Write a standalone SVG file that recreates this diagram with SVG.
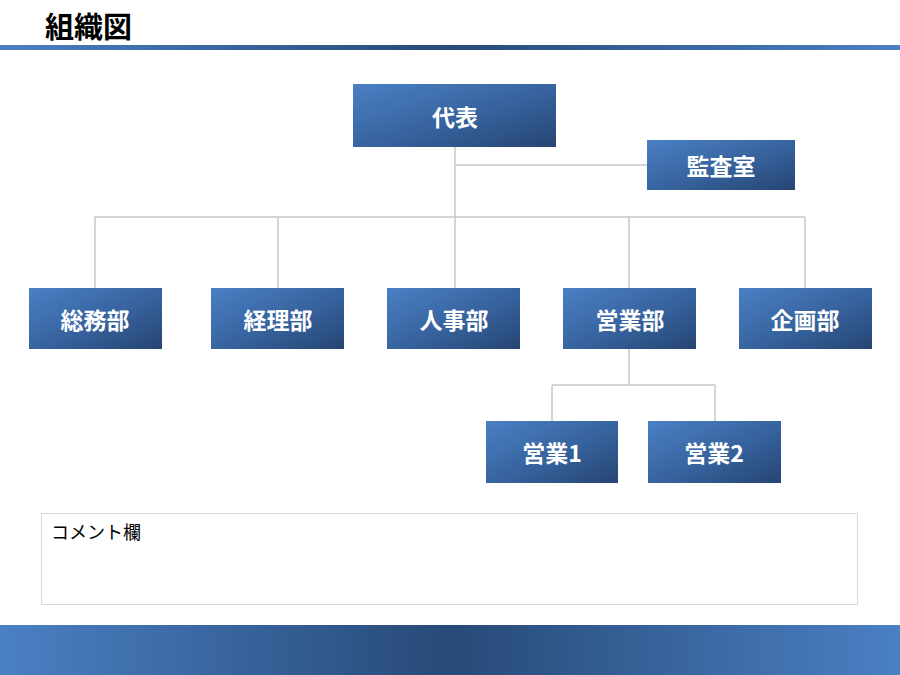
<svg xmlns="http://www.w3.org/2000/svg" width="900" height="675" viewBox="0 0 900 675">
<defs>
<linearGradient id="band" x1="0" y1="0" x2="1" y2="0">
<stop offset="0" stop-color="#4a80c4"/>
<stop offset="0.5" stop-color="#274a77"/>
<stop offset="1" stop-color="#4a80c4"/>
</linearGradient>
<linearGradient id="box" x1="0" y1="0" x2="1" y2="1">
<stop offset="0" stop-color="#4a80c4"/>
<stop offset="0.55" stop-color="#36629d"/>
<stop offset="1" stop-color="#264573"/>
</linearGradient>
<style>
.node rect{fill:url(#box);}
.node text{fill:#ffffff;font-family:"Noto Sans CJK JP","Liberation Sans",sans-serif;font-weight:bold;font-size:23px;text-anchor:middle;dominant-baseline:central;}
.conn{stroke:#c8c8c8;stroke-width:1.5;fill:none;}
</style>
</defs>
<rect width="900" height="675" fill="#ffffff"/>
<text x="45" y="38" font-family="Noto Sans CJK JP, sans-serif" font-weight="bold" font-size="29" fill="#000000">組織図</text>
<rect x="0" y="45" width="900" height="5" fill="url(#band)"/>
<rect x="0" y="625" width="900" height="50" fill="url(#band)"/>
<g id="connectors" class="conn">
<path d="M455 147 V217"/>
<path d="M455 165 H647"/>
<path d="M95 217 H805"/>
<path d="M95 217 V288 M278 217 V288 M455 217 V288 M629 217 V288 M805 217 V288"/>
<path d="M629 349 V385 M552 385 H715 M552 385 V421 M715 385 V421"/>
</g>
<g id="daihyo" class="node"><rect x="353" y="84" width="203" height="63"/><text x="455" y="116">代表</text></g>
<g id="kansa" class="node"><rect x="647" y="140" width="148" height="50"/><text x="721" y="165">監査室</text></g>
<g id="somu" class="node"><rect x="29" y="288" width="133" height="61"/><text x="95" y="319">総務部</text></g>
<g id="keiri" class="node"><rect x="211" y="288" width="133" height="61"/><text x="278" y="319">経理部</text></g>
<g id="jinji" class="node"><rect x="387" y="288" width="133" height="61"/><text x="454" y="319">人事部</text></g>
<g id="eigyo" class="node"><rect x="563" y="288" width="133" height="61"/><text x="630" y="319">営業部</text></g>
<g id="kikaku" class="node"><rect x="739" y="288" width="133" height="61"/><text x="805" y="319">企画部</text></g>
<g id="eigyo1" class="node"><rect x="486" y="421" width="132" height="62"/><text x="552" y="452">営業1</text></g>
<g id="eigyo2" class="node"><rect x="648" y="421" width="133" height="62"/><text x="714" y="452">営業2</text></g>
<g id="comment">
<rect x="41.5" y="513.5" width="816" height="91" fill="#ffffff" stroke="#d9d9d9" stroke-width="1"/>
<text x="51" y="539" font-family="Noto Sans CJK JP, sans-serif" font-size="18" fill="#000000">コメント欄</text>
</g>
</svg>
